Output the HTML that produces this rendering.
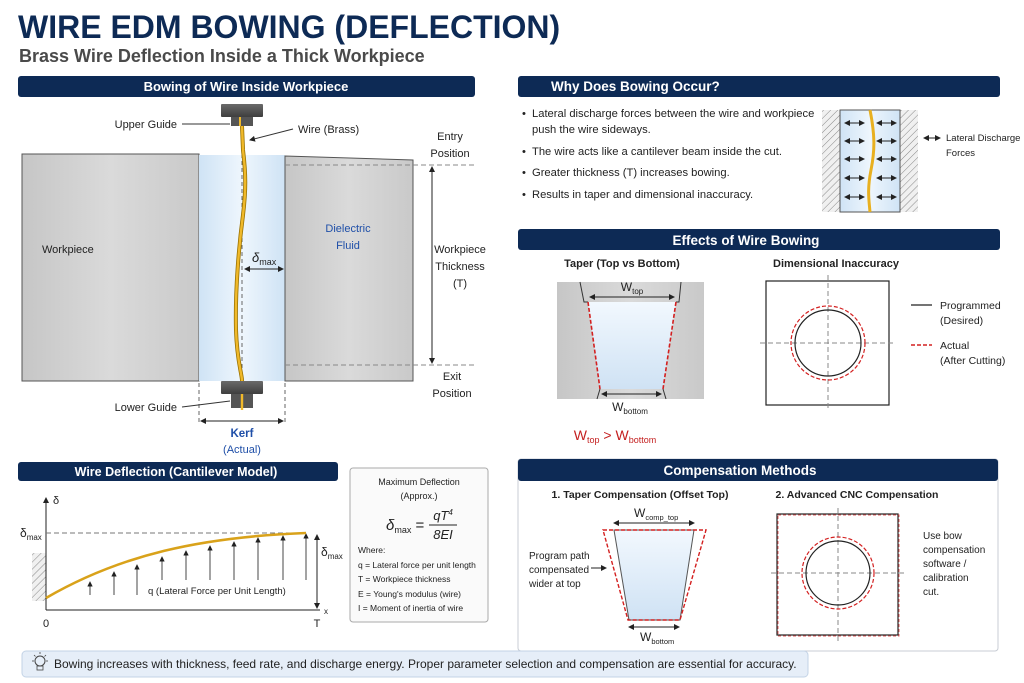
<!DOCTYPE html>
<html><head><meta charset="utf-8"><style>
html,body{margin:0;padding:0;background:#fff}
svg{display:block}
text{font-family:"Liberation Sans",Arial,sans-serif}
</style></head><body>
<svg width="1024" height="683" viewBox="0 0 1024 683" xmlns="http://www.w3.org/2000/svg">
<defs>
<linearGradient id="wp" x1="0" x2="1" y1="0" y2="0"><stop offset="0" stop-color="#c6c6c6"/><stop offset="0.5" stop-color="#dadada"/><stop offset="1" stop-color="#c9c9c9"/></linearGradient>
<linearGradient id="fl" x1="0" x2="1"><stop offset="0" stop-color="#cfe3f5"/><stop offset="0.5" stop-color="#eef6fd"/><stop offset="1" stop-color="#cfe3f5"/></linearGradient>
<linearGradient id="fl2" x1="0" x2="0" y1="0" y2="1"><stop offset="0" stop-color="#f2f8fe"/><stop offset="1" stop-color="#cfe2f4"/></linearGradient>
<linearGradient id="gd" x1="0" x2="0" y1="0" y2="1"><stop offset="0" stop-color="#6a6a6a"/><stop offset="1" stop-color="#3e3e3e"/></linearGradient>
<pattern id="hatch" width="5" height="5" patternUnits="userSpaceOnUse" patternTransform="rotate(45)"><rect width="5" height="5" fill="#f0f0f0"/><line x1="0" y1="0" x2="0" y2="5" stroke="#888" stroke-width="1"/></pattern>
<marker id="ah" markerWidth="6" markerHeight="6" refX="5" refY="3" orient="auto-start-reverse"><path d="M0,0 L6,3 L0,6z" fill="#222"/></marker>
</defs>

<text x="18" y="38" font-size="32" font-weight="bold" fill="#0d2a55">WIRE EDM BOWING (DEFLECTION)</text>
<text x="19" y="62" font-size="18" font-weight="bold" fill="#4a4a4a">Brass Wire Deflection Inside a Thick Workpiece</text>

<rect x="18" y="76" width="457" height="21" rx="3" fill="#0d2a55"/>
<text x="246" y="91" font-size="13" font-weight="bold" fill="#fff" text-anchor="middle">Bowing of Wire Inside Workpiece</text>
<rect x="518" y="76" width="482" height="21" rx="3" fill="#0d2a55"/>
<text x="551" y="91" font-size="13.5" font-weight="bold" fill="#fff">Why Does Bowing Occur?</text>
<rect x="518" y="229" width="482" height="21" rx="3" fill="#0d2a55"/>
<text x="746" y="245" font-size="13.5" font-weight="bold" fill="#fff" text-anchor="middle">Effects of Wire Bowing</text>
<rect x="18" y="462" width="320" height="19" rx="3" fill="#0d2a55"/>
<text x="176" y="476" font-size="12.5" font-weight="bold" fill="#fff" text-anchor="middle">Wire Deflection (Cantilever Model)</text>
<rect x="518" y="459" width="480" height="192" rx="3" fill="#fff" stroke="#c8ccd4"/>
<rect x="518" y="459" width="480" height="22" rx="3" fill="#0d2a55"/>
<text x="740" y="475" font-size="13.5" font-weight="bold" fill="#fff" text-anchor="middle">Compensation Methods</text>

<rect x="22" y="154" width="177" height="227" fill="url(#wp)" stroke="#555"/>
<rect x="199" y="155" width="86" height="226" fill="url(#fl)"/>
<path d="M285,156 L413,160 L413,381 L285,381z" fill="url(#wp)" stroke="#555"/>
<line x1="285" y1="165" x2="475" y2="165" stroke="#888" stroke-dasharray="5,3"/>
<line x1="285" y1="365" x2="475" y2="365" stroke="#888" stroke-dasharray="5,3"/>
<line x1="432" y1="167" x2="432" y2="363" stroke="#222" marker-start="url(#ah)" marker-end="url(#ah)"/>
<line x1="242" y1="126" x2="242" y2="408" stroke="#666" stroke-dasharray="4,3"/>
<path d="M242,126 L243,150 C246,175 246,190 243,215 C239,245 235,290 236,330 C237,360 241,370 242,380 L242,408" fill="none" stroke="#9a7200" stroke-width="4"/>
<path d="M242,126 L243,150 C246,175 246,190 243,215 C239,245 235,290 236,330 C237,360 241,370 242,380 L242,408" fill="none" stroke="#f0b92a" stroke-width="2.4"/>
<rect x="221" y="104" width="42" height="13" rx="1" fill="url(#gd)"/>
<rect x="231" y="117" width="22" height="9" fill="#555"/>
<rect x="221" y="381" width="42" height="13" rx="1" fill="url(#gd)"/>
<rect x="231" y="394" width="22" height="14" fill="#555"/>
<line x1="240" y1="117" x2="240" y2="126" stroke="#f0b92a" stroke-width="2"/>
<line x1="242" y1="394" x2="242" y2="410" stroke="#f0b92a" stroke-width="2.4"/>
<line x1="199" y1="383" x2="199" y2="424" stroke="#666" stroke-dasharray="4,3"/>
<line x1="285" y1="383" x2="285" y2="424" stroke="#666" stroke-dasharray="4,3"/>
<line x1="201" y1="421" x2="283" y2="421" stroke="#222" marker-start="url(#ah)" marker-end="url(#ah)"/>
<line x1="245" y1="269" x2="283" y2="269" stroke="#222" marker-start="url(#ah)" marker-end="url(#ah)"/>
<text x="252" y="262" font-size="13" font-style="italic" fill="#222">δ<tspan font-size="9" font-style="normal" dy="3">max</tspan></text>
<line x1="182" y1="124" x2="230" y2="124" stroke="#333"/>
<text x="177" y="128" font-size="11" fill="#222" text-anchor="end">Upper Guide</text>
<line x1="293" y1="129" x2="250" y2="140" stroke="#333" marker-end="url(#ah)"/>
<text x="298" y="133" font-size="11" fill="#222">Wire (Brass)</text>
<line x1="182" y1="407" x2="230" y2="401" stroke="#333"/>
<text x="177" y="411" font-size="11" fill="#222" text-anchor="end">Lower Guide</text>
<text x="450" y="140" font-size="11" fill="#222" text-anchor="middle">Entry</text>
<text x="450" y="157" font-size="11" fill="#222" text-anchor="middle">Position</text>
<text x="460" y="253" font-size="11" fill="#222" text-anchor="middle">Workpiece</text>
<text x="460" y="270" font-size="11" fill="#222" text-anchor="middle">Thickness</text>
<text x="460" y="287" font-size="11" fill="#222" text-anchor="middle">(T)</text>
<text x="452" y="380" font-size="11" fill="#222" text-anchor="middle">Exit</text>
<text x="452" y="397" font-size="11" fill="#222" text-anchor="middle">Position</text>
<text x="42" y="253" font-size="11" fill="#222">Workpiece</text>
<text x="348" y="232" font-size="11" fill="#1f4fa8" text-anchor="middle">Dielectric</text>
<text x="348" y="249" font-size="11" fill="#1f4fa8" text-anchor="middle">Fluid</text>
<text x="242" y="437" font-size="11.5" font-weight="bold" fill="#1f4fa8" text-anchor="middle">Kerf</text>
<text x="242" y="453" font-size="11" fill="#1f4fa8" text-anchor="middle">(Actual)</text>

<g font-size="11.2" fill="#222">
<text x="522" y="117">•</text><text x="532" y="117">Lateral discharge forces between the wire and workpiece</text>
<text x="532" y="133">push the wire sideways.</text>
<text x="522" y="155">•</text><text x="532" y="155">The wire acts like a cantilever beam inside the cut.</text>
<text x="522" y="176">•</text><text x="532" y="176">Greater thickness (T) increases bowing.</text>
<text x="522" y="198">•</text><text x="532" y="198">Results in taper and dimensional inaccuracy.</text>
</g>
<rect x="822" y="110" width="18" height="102" fill="url(#hatch)"/>
<rect x="900" y="110" width="18" height="102" fill="url(#hatch)"/>
<rect x="840" y="110" width="60" height="102" fill="url(#fl)" stroke="#555"/>
<path d="M870,110 C875,135 875,150 871,170 C867,190 869,200 870,212" fill="none" stroke="#e8b020" stroke-width="3"/>
<g stroke="#222" stroke-width="1">
<line x1="845" y1="123" x2="864" y2="123" marker-start="url(#ah)" marker-end="url(#ah)"/><line x1="877" y1="123" x2="896" y2="123" marker-start="url(#ah)" marker-end="url(#ah)"/>
<line x1="845" y1="141" x2="864" y2="141" marker-start="url(#ah)" marker-end="url(#ah)"/><line x1="877" y1="141" x2="896" y2="141" marker-start="url(#ah)" marker-end="url(#ah)"/>
<line x1="845" y1="159" x2="864" y2="159" marker-start="url(#ah)" marker-end="url(#ah)"/><line x1="877" y1="159" x2="896" y2="159" marker-start="url(#ah)" marker-end="url(#ah)"/>
<line x1="845" y1="178" x2="864" y2="178" marker-start="url(#ah)" marker-end="url(#ah)"/><line x1="877" y1="178" x2="896" y2="178" marker-start="url(#ah)" marker-end="url(#ah)"/>
<line x1="845" y1="197" x2="864" y2="197" marker-start="url(#ah)" marker-end="url(#ah)"/><line x1="877" y1="197" x2="896" y2="197" marker-start="url(#ah)" marker-end="url(#ah)"/>
<line x1="924" y1="138" x2="940" y2="138" marker-start="url(#ah)" marker-end="url(#ah)"/>
</g>
<text x="946" y="141" font-size="9.5" fill="#222">Lateral Discharge</text>
<text x="946" y="156" font-size="9.5" fill="#222">Forces</text>

<text x="622" y="267" font-size="11" font-weight="bold" fill="#222" text-anchor="middle">Taper (Top vs Bottom)</text>
<text x="836" y="267" font-size="11" font-weight="bold" fill="#222" text-anchor="middle">Dimensional Inaccuracy</text>
<rect x="557" y="282" width="147" height="117" fill="url(#wp)"/>
<path d="M588,302 L676,302 L663,389 L600,389z" fill="url(#fl2)"/>
<path d="M580,282 L584,302 L588,302 M681,282 L679,302 L676,302 M597,399 L600,389 M666,399 L663,389" fill="none" stroke="#333"/>
<line x1="588" y1="302" x2="600" y2="389" stroke="#d32020" stroke-width="1.6" stroke-dasharray="4,2"/>
<line x1="676" y1="302" x2="663" y2="389" stroke="#d32020" stroke-width="1.6" stroke-dasharray="4,2"/>
<line x1="590" y1="297" x2="674" y2="297" stroke="#222" marker-start="url(#ah)" marker-end="url(#ah)"/>
<line x1="602" y1="394" x2="661" y2="394" stroke="#222" marker-start="url(#ah)" marker-end="url(#ah)"/>
<text x="632" y="291" font-size="12" fill="#222" text-anchor="middle">W<tspan font-size="8" dy="3">top</tspan></text>
<text x="630" y="411" font-size="12" fill="#222" text-anchor="middle">W<tspan font-size="8" dy="3">bottom</tspan></text>
<text x="615" y="440" font-size="14" fill="#c42020" text-anchor="middle">W<tspan font-size="9" dy="3">top</tspan><tspan dy="-3"> &gt; W</tspan><tspan font-size="9" dy="3">bottom</tspan></text>
<rect x="766" y="281" width="123" height="124" fill="#fff" stroke="#222" stroke-width="1.2"/>
<line x1="828" y1="275" x2="828" y2="411" stroke="#888" stroke-dasharray="5,3"/>
<line x1="760" y1="343" x2="896" y2="343" stroke="#888" stroke-dasharray="5,3"/>
<circle cx="828" cy="343" r="37" fill="none" stroke="#d32020" stroke-width="1.2" stroke-dasharray="4,2"/>
<circle cx="828" cy="343" r="33" fill="none" stroke="#222" stroke-width="1.2"/>
<line x1="911" y1="305" x2="932" y2="305" stroke="#222" stroke-width="1.2"/>
<text x="940" y="309" font-size="10.5" fill="#222">Programmed</text>
<text x="940" y="324" font-size="10.5" fill="#222">(Desired)</text>
<line x1="911" y1="345" x2="932" y2="345" stroke="#d32020" stroke-width="1.4" stroke-dasharray="4,2"/>
<text x="940" y="349" font-size="10.5" fill="#222">Actual</text>
<text x="940" y="364" font-size="10.5" fill="#222">(After Cutting)</text>

<text x="640" y="498" font-size="10.5" font-weight="bold" fill="#222" text-anchor="middle">1. Taper Compensation (Offset Top)</text>
<text x="857" y="498" font-size="10.5" font-weight="bold" fill="#222" text-anchor="middle">2. Advanced CNC Compensation</text>
<path d="M614,530 L694,530 L680,620 L629,620z" fill="url(#fl2)" stroke="#555"/>
<path d="M603,530 L706,530 L680,620 L628,620z" fill="none" stroke="#d32020" stroke-width="1.4" stroke-dasharray="4,2"/>
<line x1="614" y1="523" x2="694" y2="523" stroke="#222" marker-start="url(#ah)" marker-end="url(#ah)"/>
<line x1="629" y1="627" x2="679" y2="627" stroke="#222" marker-start="url(#ah)" marker-end="url(#ah)"/>
<text x="634" y="517" font-size="12" fill="#222">W<tspan font-size="7.5" dy="3">comp_top</tspan></text>
<text x="640" y="641" font-size="12" fill="#222">W<tspan font-size="7.5" dy="3">bottom</tspan></text>
<text x="529" y="559" font-size="10" fill="#222">Program path</text>
<text x="529" y="573" font-size="10" fill="#222">compensated</text>
<text x="529" y="587" font-size="10" fill="#222">wider at top</text>
<line x1="591" y1="568" x2="606" y2="568" stroke="#222" marker-end="url(#ah)"/>
<rect x="777" y="514" width="121" height="121" fill="#fff" stroke="#222" stroke-width="1.2"/>
<rect x="777" y="514" width="121" height="121" fill="none" stroke="#d32020" stroke-dasharray="3,2" opacity="0.7" transform="translate(1,1)"/>
<line x1="838" y1="508" x2="838" y2="641" stroke="#888" stroke-dasharray="5,3"/>
<line x1="771" y1="573" x2="904" y2="573" stroke="#888" stroke-dasharray="5,3"/>
<circle cx="838" cy="573" r="36" fill="none" stroke="#d32020" stroke-width="1.2" stroke-dasharray="4,2"/>
<circle cx="838" cy="573" r="32" fill="none" stroke="#222" stroke-width="1.2"/>
<g font-size="10" fill="#222"><text x="923" y="539">Use bow</text><text x="923" y="553">compensation</text><text x="923" y="567">software /</text><text x="923" y="581">calibration</text><text x="923" y="595">cut.</text></g>

<rect x="32" y="553" width="14" height="48" fill="url(#hatch)"/>
<line x1="46" y1="610" x2="46" y2="498" stroke="#222" marker-end="url(#ah)"/>
<line x1="46" y1="610" x2="320" y2="610" stroke="#222"/>
<text x="53" y="504" font-size="11" fill="#222">δ</text>
<text x="20" y="537" font-size="12" fill="#222">δ<tspan font-size="8" dy="3">max</tspan></text>
<line x1="46" y1="533" x2="306" y2="533" stroke="#777" stroke-dasharray="5,3"/>
<g stroke="#333" stroke-width="0.9">
<line x1="90" y1="595" x2="90" y2="582" marker-end="url(#ah)"/><line x1="114" y1="595" x2="114" y2="572" marker-end="url(#ah)"/>
<line x1="137" y1="595" x2="137" y2="565" marker-end="url(#ah)"/><line x1="162" y1="580" x2="162" y2="557" marker-end="url(#ah)"/>
<line x1="186" y1="580" x2="186" y2="551" marker-end="url(#ah)"/><line x1="210" y1="580" x2="210" y2="546" marker-end="url(#ah)"/>
<line x1="234" y1="580" x2="234" y2="542" marker-end="url(#ah)"/><line x1="258" y1="580" x2="258" y2="538" marker-end="url(#ah)"/>
<line x1="283" y1="580" x2="283" y2="536" marker-end="url(#ah)"/><line x1="306" y1="580" x2="306" y2="534" marker-end="url(#ah)"/>
</g>
<path d="M46,598 C120,555 200,537 306,533" fill="none" stroke="#d9a21a" stroke-width="2.6"/>
<line x1="317" y1="535" x2="317" y2="608" stroke="#222" marker-start="url(#ah)" marker-end="url(#ah)"/>
<text x="321" y="556" font-size="12" fill="#222">δ<tspan font-size="8" dy="3">max</tspan></text>
<text x="148" y="594" font-size="9.5" fill="#222">q (Lateral Force per Unit Length)</text>
<text x="46" y="627" font-size="11" fill="#222" text-anchor="middle">0</text>
<text x="317" y="627" font-size="11" fill="#222" text-anchor="middle">T</text>
<text x="324" y="614" font-size="8" fill="#222">x</text>

<rect x="350" y="468" width="138" height="154" rx="3" fill="#fafafa" stroke="#aaa"/>
<text x="419" y="485" font-size="9" fill="#222" text-anchor="middle">Maximum Deflection</text>
<text x="419" y="499" font-size="9" fill="#222" text-anchor="middle">(Approx.)</text>
<text x="386" y="530" font-size="15" font-style="italic" fill="#222" font-family="Liberation Serif">δ<tspan font-size="9" font-style="normal" font-family="Liberation Sans" dy="3">max</tspan><tspan dy="-3" font-style="normal"> =</tspan></text>
<text x="443" y="520" font-size="13" font-style="italic" fill="#222" font-family="Liberation Serif" text-anchor="middle">qT<tspan font-size="8" dy="-5">4</tspan></text>
<line x1="429" y1="525" x2="457" y2="525" stroke="#222"/>
<text x="443" y="539" font-size="13" font-style="italic" fill="#222" font-family="Liberation Serif" text-anchor="middle">8EI</text>
<g font-size="8.5" fill="#222"><text x="358" y="553">Where:</text><text x="358" y="568">q = Lateral force per unit length</text><text x="358" y="582">T = Workpiece thickness</text><text x="358" y="597">E = Young's modulus (wire)</text><text x="358" y="611">I = Moment of inertia of wire</text></g>

<rect x="22" y="651" width="786" height="26" rx="4" fill="#e6eef8" stroke="#c3d3e6"/>
<circle cx="40" cy="661" r="5" fill="none" stroke="#444"/>
<rect x="37" y="666" width="6" height="4" fill="none" stroke="#444" stroke-width="0.8"/>
<g stroke="#444" stroke-width="0.8"><line x1="40" y1="652" x2="40" y2="654"/><line x1="32" y1="661" x2="34" y2="661"/><line x1="46" y1="661" x2="48" y2="661"/><line x1="34" y1="655" x2="35.5" y2="656.5"/><line x1="46" y1="655" x2="44.5" y2="656.5"/></g>
<text x="54" y="668" font-size="12" fill="#222">Bowing increases with thickness, feed rate, and discharge energy. Proper parameter selection and compensation are essential for accuracy.</text>
</svg>
</body></html>
